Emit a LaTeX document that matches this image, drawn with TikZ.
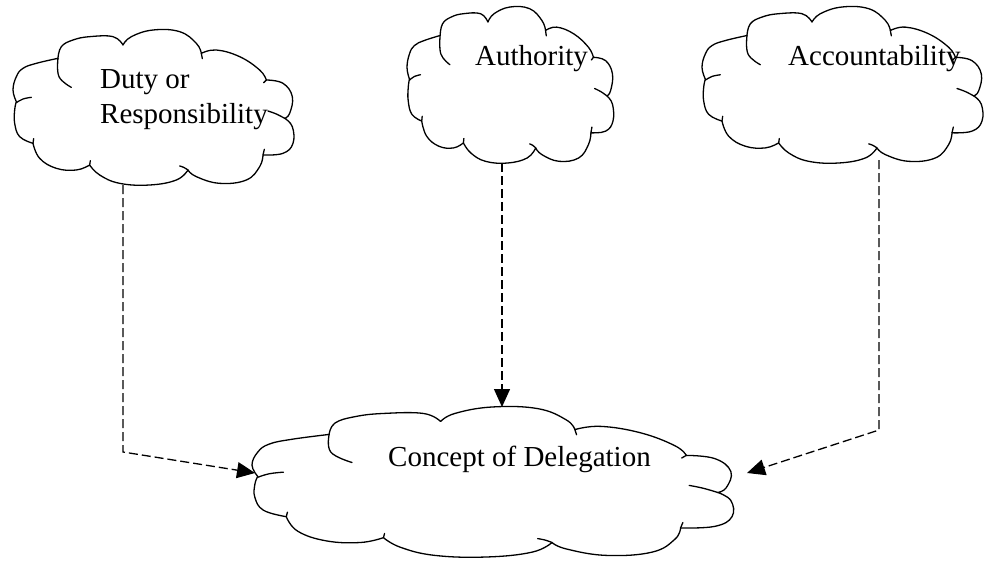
\documentclass[tikz,border=0pt]{standalone}
\usepackage{fontspec}
\setmainfont{Liberation Serif}
\usetikzlibrary{arrows.meta,calc}

\tikzset{
  cloudline/.style={draw=black, line width=1.3pt, line join=round, line cap=round},
  cloudbox/.style={inner sep=0pt, outer sep=0pt, anchor=north west},
  caption/.style={font=\fontsize{29}{35}\selectfont, inner sep=0pt, anchor=base west},
  link/.style={draw=black, line width=1.3pt, dash pattern=on 9pt off 4pt,
    -{Triangle[length=18pt,width=16pt]}},
}

% Cloud outline in a 840 x 465 frame (y pointing down), with its inner curls
\newcommand\officecloud{%
  \path[cloudline, fill=white]
    plot[smooth,tension=.7] coordinates {(10,215)(0,180)(10,140)(30,115)(70,100)(135,85)}
    -- plot[smooth,tension=.7] coordinates {(135,85)(145,50)(180,30)(230,20)(300,20)(330,45)}
    -- plot[smooth,tension=.7] coordinates {(330,45)(355,20)(420,0)(500,5)(550,40)(565,70)}
    -- plot[smooth,tension=.7] coordinates {(565,70)(610,60)(680,80)(740,120)(760,150)}
    -- plot[smooth,tension=.7] coordinates {(760,150)(810,160)(838,200)(830,250)(815,265)}
    -- plot[smooth,tension=.7] coordinates {(815,265)(838,290)(840,340)(810,370)(750,375)}
    -- plot[smooth,tension=.7] coordinates {(750,375)(740,410)(700,450)(620,460)(550,440)(525,420)}
    -- plot[smooth,tension=.7] coordinates {(525,420)(490,450)(410,465)(320,460)(260,435)(230,405)}
    -- plot[smooth,tension=.7] coordinates {(230,405)(190,420)(130,415)(80,385)(60,340)}
    -- plot[smooth,tension=.7] coordinates {(60,340)(20,320)(5,280)(5,240)(10,215)}
    -- cycle;
  \draw[cloudline] plot[smooth,tension=.7] coordinates {(135,85)(138,140)(175,172)};
  \draw[cloudline] plot[smooth,tension=.7] coordinates {(10,218)(30,207)(55,202)};
  \draw[cloudline] (565,70) -- (568,86);
  \draw[cloudline] (760,150) -- (752,158);
  \draw[cloudline] plot[smooth,tension=.7] coordinates {(815,265)(790,252)(765,243)};
  \draw[cloudline] (750,375) -- (754,358);
  \draw[cloudline] plot[smooth,tension=.7] coordinates {(525,420)(512,412)(500,408)};
  \draw[cloudline] (230,405) -- (232,392);
  \draw[cloudline] (60,340) -- (62,326);
}

% #1 = node whose box holds the cloud, #2 = width, #3 = height
\newcommand\drawcloud[3]{%
  \begin{scope}[shift={(#1.north west)}, xscale=#2/840, yscale=#3/465]
    \officecloud
  \end{scope}}

\begin{document}
\begin{tikzpicture}[x=1pt,y=-1pt]
  \useasboundingbox (0,0) rectangle (984,562);

  % cloud areas
  \node[cloudbox, minimum width=280pt, minimum height=155pt] (duty) at (13,30) {};
  \node[cloudbox, minimum width=206pt, minimum height=156pt] (auth) at (407,7) {};
  \node[cloudbox, minimum width=280pt, minimum height=156pt] (acc) at (702,7) {};
  \node[cloudbox, minimum width=480pt, minimum height=150pt] (concept) at (252,407) {};

  \drawcloud{duty}{280}{155}
  \drawcloud{auth}{206}{156}
  \drawcloud{acc}{280}{156}
  \drawcloud{concept}{480}{150}

  % labels
  \node[caption] (dutyA) at (100,88) {Duty or};
  \node[caption] (dutyB) at (100,123) {Responsibility};
  \node[caption] (authT) at (475,65) {Authority};
  \node[caption] (accT) at (788,65) {Accountability};
  \node[caption] (conceptT) at (388,466) {Concept of Delegation};

  % connector ends
  \coordinate (dutyOut) at ($(duty.south west)+(110,0)$);
  \coordinate (dutyIn) at ($(concept.north west)+(3,66)$);
  \coordinate (authOut) at ($(auth.south west)+(95,0)$);
  \coordinate (authIn) at (authOut |- concept.north);
  \coordinate (accOut) at ($(acc.south west)+(177,-3)$);
  \coordinate (accIn) at ($(concept.north east)+(15,66)$);

  % dashed connectors
  \draw[link] (dutyOut) -- ++(0,267) -- (dutyIn);
  \draw[link] (authOut) -- (authIn);
  \draw[link] (accOut) -- ++(0,270) -- (accIn);
\end{tikzpicture}
\end{document}
